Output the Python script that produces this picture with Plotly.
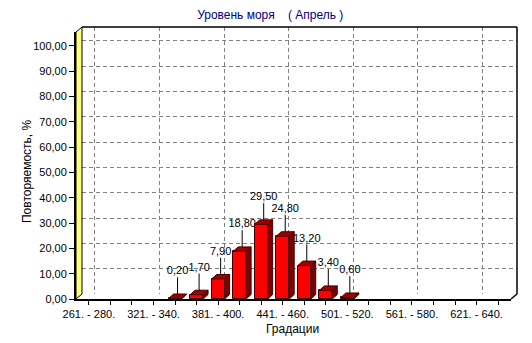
import plotly.graph_objects as go

# Sea level gradations (cm) and their frequency of occurrence, %
categories = [
    "261. - 280.", "281. - 300.", "301. - 320.", "321. - 340.", "341. - 360.",
    "361. - 380.", "381. - 400.", "401. - 420.", "421. - 440.", "441. - 460.",
    "461. - 480.", "481. - 500.", "501. - 520.", "521. - 540.", "541. - 560.",
    "561. - 580.", "581. - 600.", "601. - 620.", "621. - 640.", "641. - 660.",
]
frequency = [0, 0, 0, 0, 0.2, 1.7, 7.9, 18.8, 29.5, 24.8,
             13.2, 3.4, 0.6, 0, 0, 0, 0, 0, 0, 0]
y_ticks = [0, 10, 20, 30, 40, 50, 60, 70, 80, 90, 100]
y_tick_text = ["0,00", "10,00", "20,00", "30,00", "40,00", "50,00",
               "60,00", "70,00", "80,00", "90,00", "100,00"]

W, H = 532, 343
L, R, T, B = 76, 15, 27, 44
PW, PH = W - L - R, H - T - B          # plot area in px
WALL_DX, WALL_DY = 6, 5                # depth of the 3D box, px
BAR_DX, BAR_DY = 5, 4.5                # depth of each bar, px
X_RANGE = [-0.6, len(categories) - 0.4]
Y_RANGE = [0, 105.5]
FRONT_W, FRONT_H = PW - WALL_DX, PH - WALL_DY
px_per_cat = FRONT_W / (X_RANGE[1] - X_RANGE[0])
px_per_unit = FRONT_H / (Y_RANGE[1] - Y_RANGE[0])

bar_w = 0.6
bdx, bdy = BAR_DX / px_per_cat, BAR_DY / px_per_unit
wdx, wdy = WALL_DX / px_per_cat, WALL_DY / px_per_unit
lead = 19 / px_per_unit


def fmt(v):
    return f"{v:.2f}".replace(".", ",")


def px(xp):
    return (xp - L) / PW


def py(yp):
    return (H - B - yp) / PH


idx = [i for i, v in enumerate(frequency) if v > 0]
vals = [frequency[i] for i in idx]

fig = go.Figure()

# back wall (x/y): carries the dashed grid; drawn underneath everything else
# value labels with their leader lines sit here too, shifted back to the bar tops
lx, ly = [], []
for i, v in zip(idx, vals):
    x0 = i + bdx / 2 - wdx
    y0 = v + bdy / 2 - wdy
    lx += [x0, x0, None]
    ly += [y0, y0 + lead, None]
fig.add_trace(go.Scatter(x=lx, y=ly, mode="lines", line=dict(color="black", width=1),
                         hoverinfo="skip", showlegend=False, xaxis="x", yaxis="y"))
fig.add_trace(go.Scatter(
    x=[i + bdx / 2 - wdx for i in idx],
    y=[v + bdy / 2 - wdy + lead for v in vals],
    mode="text", text=[fmt(v) for v in vals], textposition="top center",
    textfont=dict(family="Arial", size=11, color="black"),
    hoverinfo="skip", showlegend=False, cliponaxis=False, xaxis="x", yaxis="y"))

# front plane (x2/y2): bars with their 3D side and top faces
fig.add_trace(go.Bar(
    x=idx, y=vals, width=bar_w, xaxis="x2", yaxis="y2",
    marker=dict(color="#FF0000", line=dict(color="#400000", width=1)),
    hoverinfo="skip", showlegend=False))

sx, sy, tx, ty = [], [], [], []
for i, v in zip(idx, vals):
    r = i + bar_w / 2
    l = i - bar_w / 2
    sx += [r, r + bdx, r + bdx, r, r, None]
    sy += [0, bdy, v + bdy, v, 0, None]
    tx += [l, r, r + bdx, l + bdx, l, None]
    ty += [v, v, v + bdy, v + bdy, v, None]
fig.add_trace(go.Scatter(x=sx, y=sy, mode="lines", fill="toself", fillcolor="#800000",
                         line=dict(color="#400000", width=1), xaxis="x2", yaxis="y2",
                         hoverinfo="skip", showlegend=False))
fig.add_trace(go.Scatter(x=tx, y=ty, mode="lines", fill="toself", fillcolor="#A00000",
                         line=dict(color="#400000", width=1), xaxis="x2", yaxis="y2",
                         hoverinfo="skip", showlegend=False))

grid = dict(showgrid=True, gridcolor="#808080", griddash="4px,3px", gridwidth=1,
            zeroline=False, showline=False, showticklabels=False, ticks="")

tick_font = dict(family="Arial", size=11, color="black")

fig.update_layout(
    width=W, height=H,
    margin=dict(l=L, r=R, t=T, b=B),
    paper_bgcolor="white", plot_bgcolor="rgba(0,0,0,0)",
    title=dict(text="Уровень моря\u00a0\u00a0\u00a0\u00a0( Апрель )", x=0.508, xanchor="center",
               y=1 - 15 / H, yanchor="middle",
               font=dict(family="Arial", size=12, color="#000080")),
    xaxis=dict(domain=[WALL_DX / PW, 1], range=X_RANGE, anchor="y",
               tickvals=list(range(0, len(categories), 3)), **grid),
    yaxis=dict(domain=[WALL_DY / PH, 1], range=Y_RANGE, anchor="x",
               tickvals=y_ticks, **grid),
    xaxis2=dict(domain=[0, FRONT_W / PW], range=X_RANGE, anchor="y2",
                tickvals=list(range(len(categories))),
                ticktext=[c if i % 3 == 0 else "" for i, c in enumerate(categories)],
                ticks="outside", ticklen=4, tickcolor="black", tickwidth=1,
                showline=True, linecolor="black", linewidth=2,
                showgrid=False, zeroline=False, tickfont=tick_font),
    yaxis2=dict(domain=[0, FRONT_H / PH], range=Y_RANGE, anchor="x2",
                tickvals=y_ticks, ticktext=y_tick_text,
                ticks="outside", ticklen=5, tickcolor="black", tickwidth=1,
                showline=True, linecolor="black", linewidth=2,
                showgrid=False, zeroline=False, tickfont=tick_font),
    bargap=0,
    shapes=[
        # yellow left wall
        dict(type="path", xref="paper", yref="paper",
             path=f"M {px(76)},{py(299)} L {px(76)},{py(32)} L {px(82)},{py(27)} "
                  f"L {px(82)},{py(294)} Z",
             fillcolor="#FFFF80", line=dict(color="black", width=1)),
        # back box edges
        dict(type="line", xref="paper", yref="paper", x0=px(82), y0=py(27), x1=px(517), y1=py(27),
             line=dict(color="black", width=1.5)),
        dict(type="line", xref="paper", yref="paper", x0=px(517), y0=py(27), x1=px(517), y1=py(294),
             line=dict(color="black", width=1.5)),
        dict(type="line", xref="paper", yref="paper", x0=px(517), y0=py(294), x1=px(511), y1=py(299),
             line=dict(color="black", width=1.5)),
    ],
    annotations=[
        dict(text="Повторяемость, %", textangle=-90, xref="paper", yref="paper",
             x=px(27), y=py(172), showarrow=False, xanchor="center", yanchor="middle",
             font=dict(family="Arial", size=12, color="black")),
        dict(text="Градации", xref="paper", yref="paper",
             x=px(292), y=py(329), showarrow=False, xanchor="center", yanchor="middle",
             font=dict(family="Arial", size=12, color="black")),
    ],
)

fig.write_html("out.html")
